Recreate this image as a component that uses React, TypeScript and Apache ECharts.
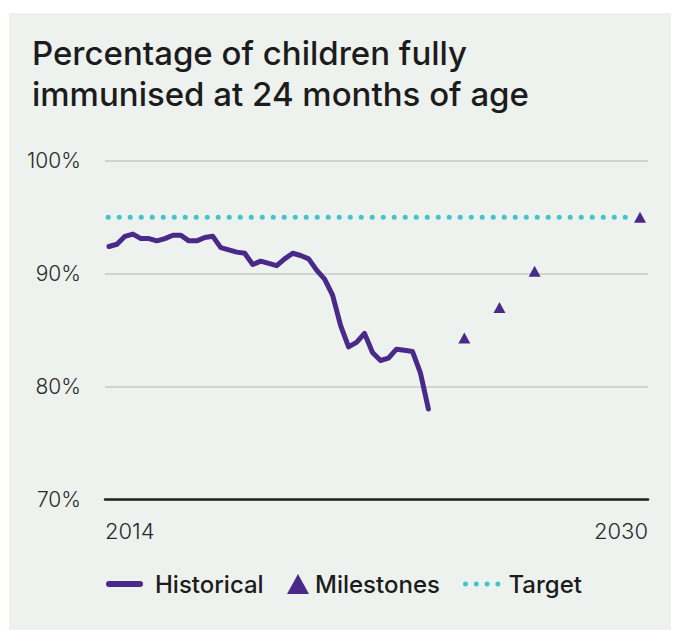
import React, { useEffect, useRef } from "react";
import * as echarts from "echarts";

// ---- data ----
const historicalQuarters = [
  "2014 Q1", "2014 Q2", "2014 Q3", "2014 Q4",
  "2015 Q1", "2015 Q2", "2015 Q3", "2015 Q4",
  "2016 Q1", "2016 Q2", "2016 Q3", "2016 Q4",
  "2017 Q1", "2017 Q2", "2017 Q3", "2017 Q4",
  "2018 Q1", "2018 Q2", "2018 Q3", "2018 Q4",
  "2019 Q1", "2019 Q2", "2019 Q3", "2019 Q4",
  "2020 Q1", "2020 Q2", "2020 Q3", "2020 Q4",
  "2021 Q1", "2021 Q2", "2021 Q3", "2021 Q4",
  "2022 Q1", "2022 Q2", "2022 Q3", "2022 Q4",
  "2023 Q1", "2023 Q2", "2023 Q3", "2023 Q4",
  "2024 Q1",
];
const historicalValues = [
  92.4, 92.6, 93.3, 93.5,
  93.1, 93.1, 92.9, 93.1,
  93.4, 93.4, 92.9, 92.9,
  93.2, 93.3, 92.3, 92.1,
  91.9, 91.8, 90.8, 91.1,
  90.9, 90.7, 91.3, 91.8,
  91.6, 91.3, 90.3, 89.5,
  88.1, 85.4, 83.5, 83.9,
  84.7, 83.0, 82.3, 82.5,
  83.3, 83.2, 83.1, 81.2,
  78.0,
];
const milestoneYears = [2025.25, 2026.35, 2027.45, 2030.75];
const milestoneValues = [84.3, 87.0, 90.2, 95.0];
const targetYears = [2014.1, 2030.4];
const targetValue = 95;
const xTickLabels = ["2014", "2030"];
const yTicks = [70, 80, 90, 100];

const PURPLE = "#4a2a88";
const TEAL = "#42c4c9";
const FONT = "Inter";

function quarterToYear(q: string): number {
  const [y, qq] = q.split(" Q");
  return Number(y) + (Number(qq) - 0.5) / 4;
}

export default function App() {
  const ref = useRef<HTMLDivElement>(null);
  useEffect(() => {
    document.body.style.margin = "0";
    if (!ref.current) return;
    const chart = echarts.init(ref.current, undefined, { renderer: "svg" });
    const xMin = 2014;
    const xMax = 2031;
    const legendText = {
      fontFamily: FONT,
      fontSize: 24,
      fontWeight: 500,
      color: "#1c1c1c",
      lineHeight: 28,
    };
    const option: any = {
      animation: false,
      backgroundColor: "#ffffff",
      graphic: [
        {
          type: "rect",
          z: -10,
          silent: true,
          shape: { x: 9, y: 13, width: 662, height: 620 },
          style: { fill: "#eef2ef" },
        },
      ],
      title: {
        text: "Percentage of children fully\nimmunised at 24 months of age",
        left: 27,
        top: 27,
        textStyle: {
          fontFamily: FONT,
          fontSize: 33,
          fontWeight: 500,
          lineHeight: 41,
          color: "#1c1c1c",
        },
      },
      grid: { left: 105, right: 31, top: 160.7, bottom: 130.7 },
      xAxis: {
        type: "value",
        min: xMin,
        max: xMax,
        interval: xMax - xMin,
        axisLine: { show: true, lineStyle: { color: "#222222", width: 2.5 } },
        axisTick: { show: false },
        splitLine: { show: false },
        axisLabel: {
          margin: 21,
          fontFamily: FONT,
          fontSize: 22,
          fontWeight: 300,
          color: "#2a2a2a",
          alignMinLabel: "left",
          alignMaxLabel: "right",
          formatter: (v: number) => (v === xMin ? xTickLabels[0] : xTickLabels[1]),
        },
      },
      yAxis: {
        type: "value",
        min: yTicks[0],
        max: yTicks[yTicks.length - 1],
        interval: 10,
        axisLine: { show: false },
        axisTick: { show: false },
        splitLine: { show: true, lineStyle: { color: "#c6cac7", width: 1.5 } },
        axisLabel: {
          margin: 24,
          fontFamily: FONT,
          fontSize: 21,
          fontWeight: 300,
          color: "#2a2a2a",
          formatter: (v: number) => `${v}%`,
        },
      },
      legend: [
        {
          data: [
            {
              name: "Historical",
              icon: "path://M3,0H34A3,3 0 0 1 34,6H3A3,3 0 0 1 3,0Z",
              itemStyle: { opacity: 1 },
              textStyle: { padding: [0, 0, 0, 7] },
            },
          ],
          left: 101,
          top: 565,
          itemWidth: 37,
          itemHeight: 6,
          selectedMode: false,
          textStyle: legendText,
        },
        {
          data: [
            {
              name: "Milestones",
              icon: "triangle",
              itemStyle: { color: PURPLE, opacity: 1 },
              textStyle: { padding: [0, 0, 0, 1] },
            },
          ],
          left: 282,
          top: 565,
          itemWidth: 22,
          itemHeight: 20,
          selectedMode: false,
          textStyle: legendText,
        },
        {
          data: [
            {
              name: "Target",
              icon:
                "path://M0,2.5a2.5,2.5 0 1,0 5,0a2.5,2.5 0 1,0 -5,0Z" +
                "M10.8,2.5a2.5,2.5 0 1,0 5,0a2.5,2.5 0 1,0 -5,0Z" +
                "M21.6,2.5a2.5,2.5 0 1,0 5,0a2.5,2.5 0 1,0 -5,0Z" +
                "M32.4,2.5a2.5,2.5 0 1,0 5,0a2.5,2.5 0 1,0 -5,0Z",
              itemStyle: { opacity: 1 },
              textStyle: { padding: [0, 0, 0, 3] },
            },
          ],
          left: 458,
          top: 565,
          itemWidth: 37.4,
          itemHeight: 5,
          selectedMode: false,
          textStyle: legendText,
        },
      ],
      series: [
        {
          name: "Target",
          type: "line",
          data: targetYears.map((y) => [y, targetValue]),
          symbol: "none",
          itemStyle: { color: TEAL },
          lineStyle: { color: TEAL, width: 5, type: [0.1, 10.9], cap: "round" },
          z: 2,
        },
        {
          name: "Historical",
          type: "line",
          data: historicalQuarters.map((q, i) => [quarterToYear(q), historicalValues[i]]),
          symbol: "none",
          itemStyle: { color: PURPLE },
          lineStyle: { color: PURPLE, width: 5, cap: "round", join: "round" },
          z: 3,
        },
        {
          name: "Milestones",
          type: "scatter",
          data: milestoneYears.map((y, i) => [y, milestoneValues[i]]),
          symbol: "triangle",
          symbolSize: [12, 11],
          itemStyle: { color: PURPLE, opacity: 1 },
          z: 4,
        },
      ],
    };
    chart.setOption(option);
    return () => chart.dispose();
  }, []);
  return <div ref={ref} style={{ width: 679, height: 630 }} />;
}
